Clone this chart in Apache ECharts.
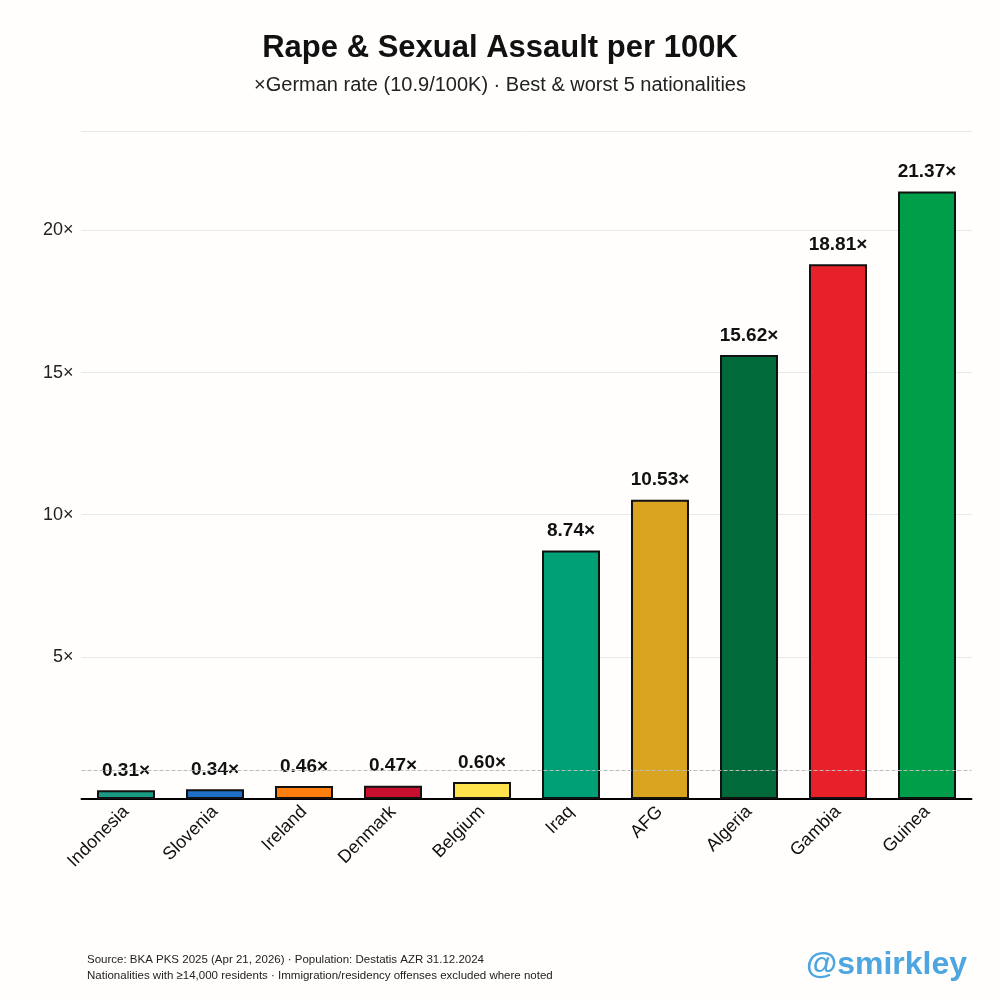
<!DOCTYPE html><html><head><meta charset="utf-8"><script src="https://cdn.jsdelivr.net/npm/echarts@6/dist/echarts.min.js"></script>
<style>html,body{margin:0;background:#fffefc}#c{width:1000px;height:1000px}</style></head><body><div id="c"></div><script>
const categories=['Indonesia','Slovenia','Ireland','Denmark','Belgium','Iraq','AFG','Algeria','Gambia','Guinea'];
const values=[0.31,0.34,0.46,0.47,0.60,8.74,10.53,15.62,18.81,21.37];
const colors=['#1a9a85','#1f6fc6','#ff7f0e','#c8102e','#ffe34d','#00a077','#d9a520','#006a3a','#e8202a','#009e49'];
const yTicks=[5,10,15,20];
const chart=echarts.init(document.getElementById('c'));
chart.setOption({
 backgroundColor:'#fffefc',
 title:[{text:'Rape & Sexual Assault per 100K',left:'center',top:28,textStyle:{fontFamily:'Liberation Sans',fontSize:31,fontWeight:'bold',color:'#111'}},
  {text:'×German rate (10.9/100K) · Best & worst 5 nationalities',left:'center',top:70,textStyle:{fontFamily:'Liberation Sans',fontSize:20,fontWeight:'normal',color:'#222'}},
  {text:'Source: BKA PKS 2025 (Apr 21, 2026) · Population: Destatis AZR 31.12.2024\nNationalities with ≥14,000 residents · Immigration/residency offenses excluded where noted',left:82,top:947,textStyle:{fontFamily:'Liberation Sans',fontSize:11.5,fontWeight:'normal',color:'#222',lineHeight:16}},
  {text:'@smirkley',right:28,top:944,textStyle:{fontFamily:'Liberation Sans',fontSize:32,fontWeight:'bold',color:'#4da6e0'}}],
 grid:{left:81.5,right:28.5,top:131,bottom:201},
 xAxis:{type:'category',data:categories,axisLine:{lineStyle:{color:'#000',width:2}},axisTick:{show:false},
  axisLabel:{rotate:45,fontFamily:'Liberation Sans',fontSize:18,color:'#111',margin:10}},
 yAxis:{type:'value',min:0,max:23.5,interval:5,axisLine:{show:false},axisTick:{show:false},
  splitLine:{lineStyle:{color:'#e8e8e8'}},
  axisLabel:{fontFamily:'Liberation Sans',fontSize:18,color:'#222',margin:8,formatter:v=>yTicks.includes(v)?v+'×':''}},
 series:[{type:'bar',barWidth:58,data:values.map((v,i)=>({value:v,itemStyle:{color:colors[i]}})),
  itemStyle:{borderColor:'#111',borderWidth:2},
  label:{show:true,position:'top',distance:10,formatter:p=>p.value.toFixed(2)+'×',fontFamily:'Liberation Sans',fontSize:19,fontWeight:'bold',color:'#111'},
  markLine:{silent:true,symbol:'none',label:{show:false},lineStyle:{color:'#bbb',type:'dashed',width:1},data:[{yAxis:1}]}}]
});
</script></body></html>
